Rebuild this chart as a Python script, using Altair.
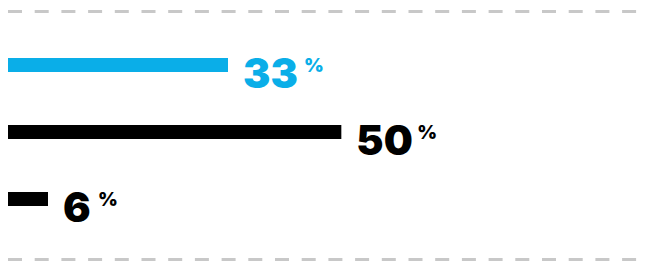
import altair as alt
import pandas as pd

categories = ["A", "B", "C"]
values = [33, 50, 6]
bar_colors = ["#0aaee8", "#000000", "#000000"]

df = pd.DataFrame({"cat": categories, "value": values})
lines = pd.DataFrame({"pos": ["top", "bottom"]})

FONT = "Inter"
x_scale = alt.Scale(domain=[0, 96], range=[0, 640], nice=False, zero=True)
y_scale = alt.Scale(type="point", domain=categories, range=[57, 191], padding=0)
color = alt.Color("cat:N", scale=alt.Scale(domain=categories, range=bar_colors), legend=None)

base = alt.Chart(df).encode(
    y=alt.Y("cat:N", scale=y_scale, axis=None),
    color=color,
)

bars = base.mark_bar(size=14).encode(
    x=alt.X("value:Q", scale=x_scale, axis=None),
    x2=alt.datum(0),
)

nums = base.mark_text(
    align="left", baseline="alphabetic", dx=15, dy=22.5,
    font=FONT, fontSize=41, fontWeight=900,
).encode(
    x=alt.X("value:Q", scale=x_scale, axis=None),
    text=alt.Text("value:Q"),
)

# label offset for the "%" sign, in pixels converted to data units (96 units / 640 px)
pct = base.transform_calculate(
    px="datum.value + (24 + length(toString(datum.value)) * 26) * 96 / 640",
    p="'%'",
).mark_text(
    align="left", baseline="alphabetic", dy=7,
    font=FONT, fontSize=19, fontWeight=900,
).encode(
    x=alt.X("px:Q", scale=x_scale, axis=None),
    text="p:N",
)

top_rule = alt.Chart(lines).transform_filter("datum.pos == 'top'").mark_rule(
    color="#c8c8c8", strokeWidth=3, strokeDash=[14, 12.7]
).encode(x=alt.value(0), x2=alt.value(656), y=alt.value(3.5))

bottom_rule = alt.Chart(lines).transform_filter("datum.pos == 'bottom'").mark_rule(
    color="#c8c8c8", strokeWidth=3, strokeDash=[14, 12.7]
).encode(x=alt.value(0), x2=alt.value(656), y=alt.value(251.5))

chart = alt.layer(top_rule, bottom_rule, bars, nums, pct).properties(
    width=640, height=253, padding=0, autosize=alt.AutoSizeParams(type="none")
).configure_view(stroke=None)

chart.save("out.html", embed_options={"renderer": "svg", "actions": False})
